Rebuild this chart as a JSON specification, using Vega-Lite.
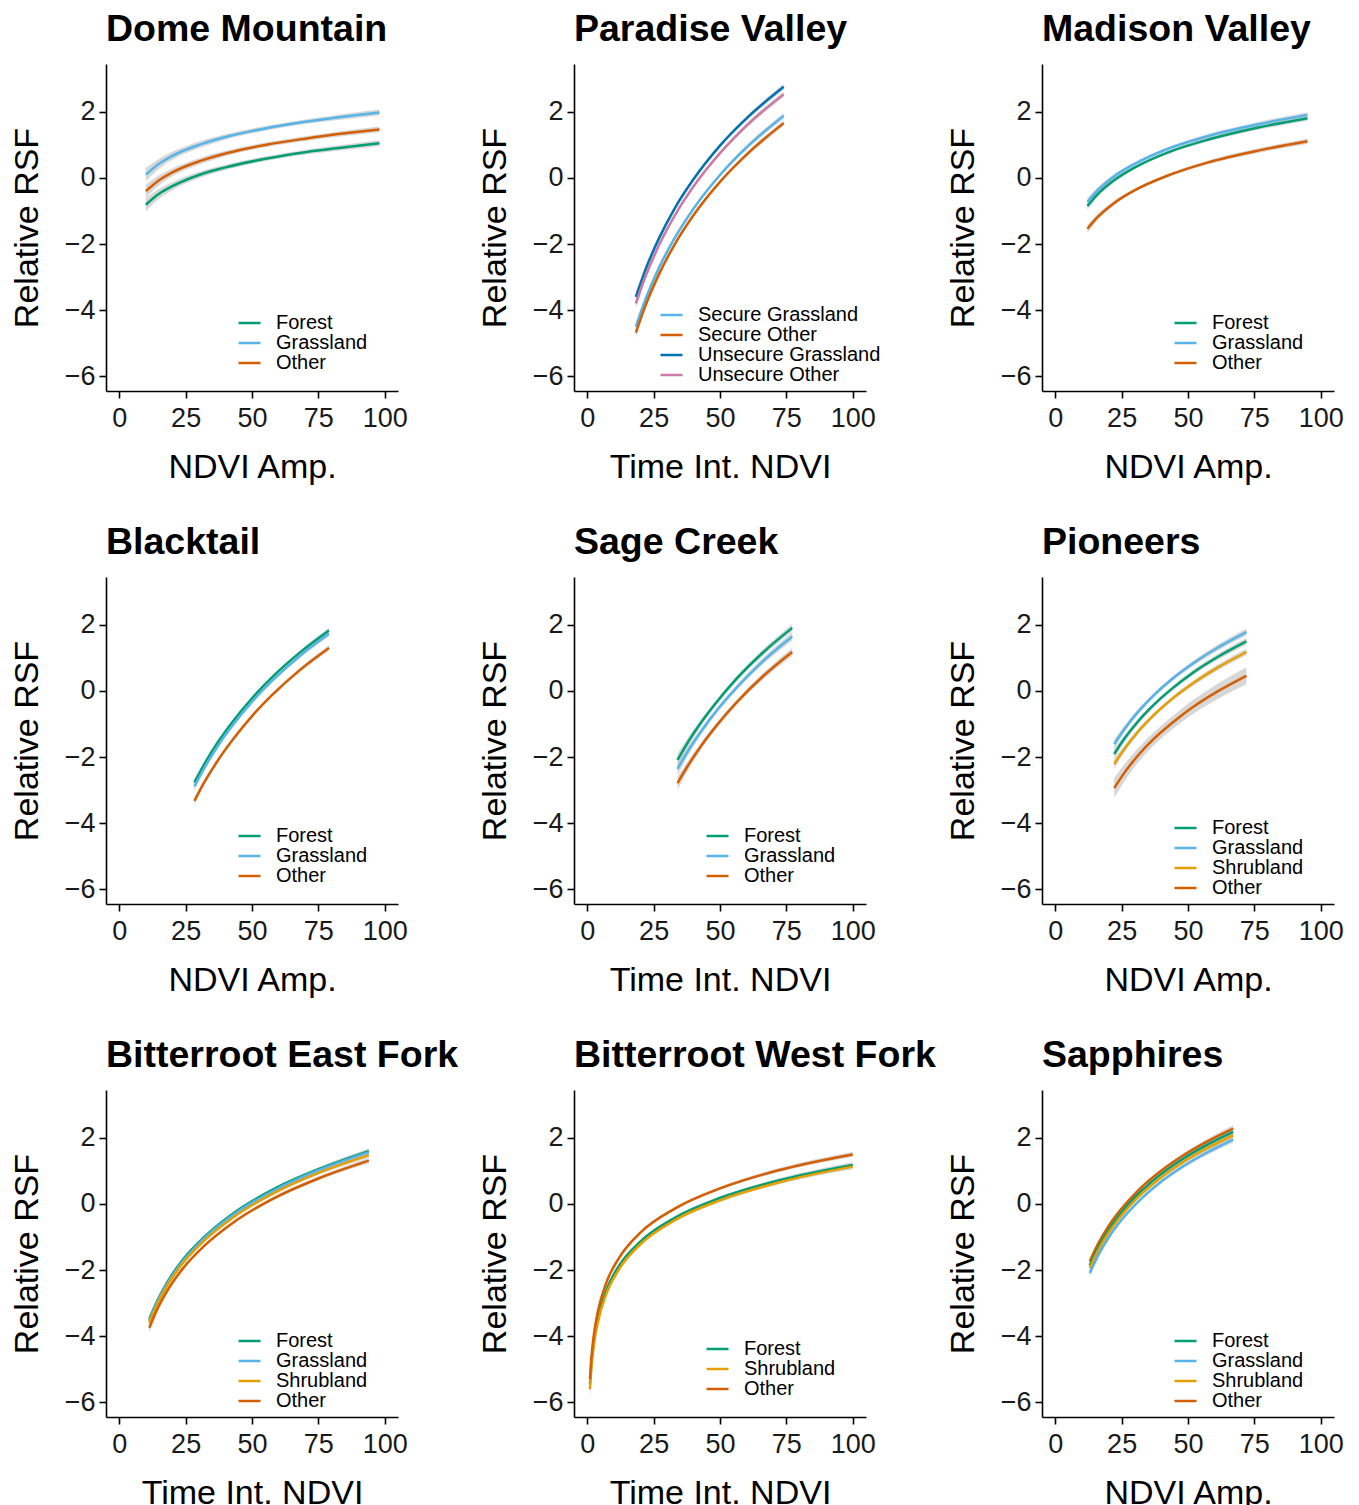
{
"$schema": "https://vega.github.io/schema/vega-lite/v6.json",
"background": "white",
"padding": {"left": 10, "top": 10, "right": 5, "bottom": 5},
"bounds": "flush",
"columns": 3,
"spacing": {"row": 186, "column": 176},
"resolve": {"scale": {"color": "independent"}, "legend": {"color": "independent"}},
"config": {
 "view": {"stroke": null},
 "font": "Liberation Sans",
 "title": {"fontSize": 37.5, "fontWeight": "bold", "anchor": "start", "frame": "group", "offset": 16, "color": "black", "font": "Liberation Sans"},
 "axis": {"domainColor": "black", "domainWidth": 1.6, "tickColor": "black", "tickWidth": 1.6, "tickSize": 7, "labelFontSize": 27, "labelColor": "#1a1a1a", "titleFontSize": 34, "titleFontWeight": "normal", "titleColor": "black", "grid": false, "labelFont": "Liberation Sans", "titleFont": "Liberation Sans"},
 "axisX": {"labelPadding": 7, "titlePadding": 19},
 "axisY": {"labelPadding": 4, "titlePadding": 20},
 "legend": {"orient": "none", "labelFontSize": 20, "labelFont": "Liberation Sans", "labelColor": "black", "symbolType": "M-2,0H2", "symbolStrokeWidth": 2.5, "symbolSize": 121, "labelOffset": 16.5, "rowPadding": -2, "labelLimit": 400, "padding": 0}
},
"datasets": {
 "dome": [
  {"c":"Forest","x":10,"y":-0.81,"lo":-1.01,"hi":-0.61},{"c":"Forest","x":15,"y":-0.48,"lo":-0.63,"hi":-0.33},{"c":"Forest","x":20,"y":-0.25,"lo":-0.37,"hi":-0.13},{"c":"Forest","x":30,"y":0.09,"lo":-0.01,"hi":0.19},{"c":"Forest","x":40,"y":0.32,"lo":0.24,"hi":0.40},{"c":"Forest","x":55,"y":0.58,"lo":0.51,"hi":0.65},{"c":"Forest","x":70,"y":0.78,"lo":0.71,"hi":0.85},{"c":"Forest","x":85,"y":0.93,"lo":0.85,"hi":1.01},{"c":"Forest","x":98,"y":1.05,"lo":0.96,"hi":1.14},
  {"c":"Grassland","x":10,"y":0.10,"lo":-0.10,"hi":0.30},{"c":"Grassland","x":15,"y":0.43,"lo":0.28,"hi":0.58},{"c":"Grassland","x":20,"y":0.67,"lo":0.55,"hi":0.79},{"c":"Grassland","x":30,"y":1.00,"lo":0.90,"hi":1.10},{"c":"Grassland","x":40,"y":1.24,"lo":1.16,"hi":1.32},{"c":"Grassland","x":55,"y":1.50,"lo":1.43,"hi":1.57},{"c":"Grassland","x":70,"y":1.70,"lo":1.63,"hi":1.77},{"c":"Grassland","x":85,"y":1.86,"lo":1.78,"hi":1.94},{"c":"Grassland","x":98,"y":1.98,"lo":1.89,"hi":2.07},
  {"c":"Other","x":10,"y":-0.40,"lo":-0.60,"hi":-0.20},{"c":"Other","x":15,"y":-0.07,"lo":-0.22,"hi":0.08},{"c":"Other","x":20,"y":0.17,"lo":0.05,"hi":0.29},{"c":"Other","x":30,"y":0.50,"lo":0.40,"hi":0.60},{"c":"Other","x":40,"y":0.74,"lo":0.66,"hi":0.82},{"c":"Other","x":55,"y":1.00,"lo":0.93,"hi":1.07},{"c":"Other","x":70,"y":1.19,"lo":1.12,"hi":1.26},{"c":"Other","x":85,"y":1.35,"lo":1.27,"hi":1.43},{"c":"Other","x":98,"y":1.47,"lo":1.38,"hi":1.56}
 ],
 "paradise": [
  {"c":"Unsecure Grassland","x":18.3,"y":-3.60,"lo":-3.75,"hi":-3.45},{"c":"Unsecure Grassland","x":22,"y":-2.76,"lo":-2.86,"hi":-2.66},{"c":"Unsecure Grassland","x":27,"y":-1.83,"lo":-1.91,"hi":-1.75},{"c":"Unsecure Grassland","x":33,"y":-0.91,"lo":-0.97,"hi":-0.85},{"c":"Unsecure Grassland","x":40,"y":-0.04,"lo":-0.09,"hi":0.01},{"c":"Unsecure Grassland","x":50,"y":0.98,"lo":0.93,"hi":1.03},{"c":"Unsecure Grassland","x":61,"y":1.88,"lo":1.81,"hi":1.95},{"c":"Unsecure Grassland","x":74,"y":2.76,"lo":2.67,"hi":2.85},
  {"c":"Unsecure Other","x":18.3,"y":-3.80,"lo":-3.95,"hi":-3.65},{"c":"Unsecure Other","x":22,"y":-2.97,"lo":-3.07,"hi":-2.87},{"c":"Unsecure Other","x":27,"y":-2.04,"lo":-2.12,"hi":-1.96},{"c":"Unsecure Other","x":33,"y":-1.13,"lo":-1.19,"hi":-1.07},{"c":"Unsecure Other","x":40,"y":-0.26,"lo":-0.31,"hi":-0.21},{"c":"Unsecure Other","x":50,"y":0.75,"lo":0.70,"hi":0.80},{"c":"Unsecure Other","x":61,"y":1.66,"lo":1.59,"hi":1.73},{"c":"Unsecure Other","x":74,"y":2.53,"lo":2.44,"hi":2.62},
  {"c":"Secure Grassland","x":18.3,"y":-4.50,"lo":-4.65,"hi":-4.35},{"c":"Secure Grassland","x":22,"y":-3.66,"lo":-3.76,"hi":-3.56},{"c":"Secure Grassland","x":27,"y":-2.72,"lo":-2.80,"hi":-2.64},{"c":"Secure Grassland","x":33,"y":-1.81,"lo":-1.87,"hi":-1.75},{"c":"Secure Grassland","x":40,"y":-0.93,"lo":-0.98,"hi":-0.88},{"c":"Secure Grassland","x":50,"y":0.09,"lo":0.04,"hi":0.14},{"c":"Secure Grassland","x":61,"y":1.00,"lo":0.93,"hi":1.07},{"c":"Secure Grassland","x":74,"y":1.88,"lo":1.79,"hi":1.97},
  {"c":"Secure Other","x":18.3,"y":-4.68,"lo":-4.83,"hi":-4.53},{"c":"Secure Other","x":22,"y":-3.85,"lo":-3.95,"hi":-3.75},{"c":"Secure Other","x":27,"y":-2.92,"lo":-3.00,"hi":-2.84},{"c":"Secure Other","x":33,"y":-2.00,"lo":-2.06,"hi":-1.94},{"c":"Secure Other","x":40,"y":-1.13,"lo":-1.18,"hi":-1.08},{"c":"Secure Other","x":50,"y":-0.12,"lo":-0.17,"hi":-0.07},{"c":"Secure Other","x":61,"y":0.78,"lo":0.71,"hi":0.85},{"c":"Secure Other","x":74,"y":1.66,"lo":1.57,"hi":1.75}
 ],
 "madison": [
  {"c":"Forest","x":12.1,"y":-0.85,"lo":-0.97,"hi":-0.73},{"c":"Forest","x":16,"y":-0.49,"lo":-0.58,"hi":-0.40},{"c":"Forest","x":22,"y":-0.08,"lo":-0.15,"hi":-0.01},{"c":"Forest","x":30,"y":0.32,"lo":0.27,"hi":0.37},{"c":"Forest","x":42,"y":0.76,"lo":0.71,"hi":0.81},{"c":"Forest","x":58,"y":1.17,"lo":1.11,"hi":1.23},{"c":"Forest","x":76,"y":1.52,"lo":1.45,"hi":1.59},{"c":"Forest","x":95,"y":1.81,"lo":1.73,"hi":1.89},
  {"c":"Grassland","x":12.1,"y":-0.73,"lo":-0.85,"hi":-0.61},{"c":"Grassland","x":16,"y":-0.37,"lo":-0.46,"hi":-0.28},{"c":"Grassland","x":22,"y":0.04,"lo":-0.03,"hi":0.11},{"c":"Grassland","x":30,"y":0.43,"lo":0.38,"hi":0.48},{"c":"Grassland","x":42,"y":0.87,"lo":0.82,"hi":0.92},{"c":"Grassland","x":58,"y":1.28,"lo":1.22,"hi":1.34},{"c":"Grassland","x":76,"y":1.62,"lo":1.55,"hi":1.69},{"c":"Grassland","x":95,"y":1.91,"lo":1.83,"hi":1.99},
  {"c":"Other","x":12.1,"y":-1.54,"lo":-1.66,"hi":-1.42},{"c":"Other","x":16,"y":-1.18,"lo":-1.27,"hi":-1.09},{"c":"Other","x":22,"y":-0.77,"lo":-0.84,"hi":-0.70},{"c":"Other","x":30,"y":-0.37,"lo":-0.42,"hi":-0.32},{"c":"Other","x":42,"y":0.06,"lo":0.01,"hi":0.11},{"c":"Other","x":58,"y":0.48,"lo":0.42,"hi":0.54},{"c":"Other","x":76,"y":0.82,"lo":0.75,"hi":0.89},{"c":"Other","x":95,"y":1.11,"lo":1.03,"hi":1.19}
 ],
 "blacktail": [
  {"c":"Forest","x":28.3,"y":-2.77,"lo":-2.89,"hi":-2.65},{"c":"Forest","x":32,"y":-2.22,"lo":-2.30,"hi":-2.14},{"c":"Forest","x":37,"y":-1.57,"lo":-1.63,"hi":-1.51},{"c":"Forest","x":43,"y":-0.90,"lo":-0.95,"hi":-0.85},{"c":"Forest","x":50,"y":-0.22,"lo":-0.27,"hi":-0.17},{"c":"Forest","x":58,"y":0.45,"lo":0.40,"hi":0.50},{"c":"Forest","x":68,"y":1.16,"lo":1.10,"hi":1.22},{"c":"Forest","x":79,"y":1.83,"lo":1.75,"hi":1.91},
  {"c":"Grassland","x":28.3,"y":-2.89,"lo":-3.01,"hi":-2.77},{"c":"Grassland","x":32,"y":-2.34,"lo":-2.42,"hi":-2.26},{"c":"Grassland","x":37,"y":-1.68,"lo":-1.74,"hi":-1.62},{"c":"Grassland","x":43,"y":-1.01,"lo":-1.06,"hi":-0.96},{"c":"Grassland","x":50,"y":-0.33,"lo":-0.38,"hi":-0.28},{"c":"Grassland","x":58,"y":0.34,"lo":0.29,"hi":0.39},{"c":"Grassland","x":68,"y":1.06,"lo":1.00,"hi":1.12},{"c":"Grassland","x":79,"y":1.73,"lo":1.65,"hi":1.81},
  {"c":"Other","x":28.3,"y":-3.33,"lo":-3.45,"hi":-3.21},{"c":"Other","x":32,"y":-2.77,"lo":-2.85,"hi":-2.69},{"c":"Other","x":37,"y":-2.12,"lo":-2.18,"hi":-2.06},{"c":"Other","x":43,"y":-1.45,"lo":-1.50,"hi":-1.40},{"c":"Other","x":50,"y":-0.76,"lo":-0.81,"hi":-0.71},{"c":"Other","x":58,"y":-0.09,"lo":-0.14,"hi":-0.04},{"c":"Other","x":68,"y":0.63,"lo":0.57,"hi":0.69},{"c":"Other","x":79,"y":1.30,"lo":1.22,"hi":1.38}
 ],
 "sage": [
  {"c":"Forest","x":34,"y":-2.09,"lo":-2.29,"hi":-1.89},{"c":"Forest","x":38,"y":-1.54,"lo":-1.68,"hi":-1.40},{"c":"Forest","x":43,"y":-0.94,"lo":-1.04,"hi":-0.84},{"c":"Forest","x":49,"y":-0.31,"lo":-0.39,"hi":-0.23},{"c":"Forest","x":56,"y":0.35,"lo":0.27,"hi":0.43},{"c":"Forest","x":66,"y":1.15,"lo":1.05,"hi":1.25},{"c":"Forest","x":77.2,"y":1.91,"lo":1.79,"hi":2.03},
  {"c":"Grassland","x":34,"y":-2.36,"lo":-2.56,"hi":-2.16},{"c":"Grassland","x":38,"y":-1.81,"lo":-1.95,"hi":-1.67},{"c":"Grassland","x":43,"y":-1.21,"lo":-1.31,"hi":-1.11},{"c":"Grassland","x":49,"y":-0.57,"lo":-0.65,"hi":-0.49},{"c":"Grassland","x":56,"y":0.08,"lo":0.00,"hi":0.16},{"c":"Grassland","x":66,"y":0.89,"lo":0.79,"hi":0.99},{"c":"Grassland","x":77.2,"y":1.65,"lo":1.53,"hi":1.77},
  {"c":"Other","x":34,"y":-2.79,"lo":-2.99,"hi":-2.59},{"c":"Other","x":38,"y":-2.25,"lo":-2.39,"hi":-2.11},{"c":"Other","x":43,"y":-1.65,"lo":-1.75,"hi":-1.55},{"c":"Other","x":49,"y":-1.02,"lo":-1.10,"hi":-0.94},{"c":"Other","x":56,"y":-0.37,"lo":-0.45,"hi":-0.29},{"c":"Other","x":66,"y":0.43,"lo":0.33,"hi":0.53},{"c":"Other","x":77.2,"y":1.18,"lo":1.06,"hi":1.30}
 ],
 "pioneers": [
  {"c":"Forest","x":22.2,"y":-1.91,"lo":-2.06,"hi":-1.76},{"c":"Forest","x":26,"y":-1.45,"lo":-1.55,"hi":-1.35},{"c":"Forest","x":31,"y":-0.94,"lo":-1.02,"hi":-0.86},{"c":"Forest","x":37,"y":-0.43,"lo":-0.50,"hi":-0.36},{"c":"Forest","x":44,"y":0.07,"lo":0.00,"hi":0.14},{"c":"Forest","x":52,"y":0.56,"lo":0.48,"hi":0.64},{"c":"Forest","x":61,"y":1.02,"lo":0.93,"hi":1.11},{"c":"Forest","x":72,"y":1.50,"lo":1.40,"hi":1.60},
  {"c":"Grassland","x":22.2,"y":-1.61,"lo":-1.76,"hi":-1.46},{"c":"Grassland","x":26,"y":-1.16,"lo":-1.26,"hi":-1.06},{"c":"Grassland","x":31,"y":-0.65,"lo":-0.73,"hi":-0.57},{"c":"Grassland","x":37,"y":-0.14,"lo":-0.21,"hi":-0.07},{"c":"Grassland","x":44,"y":0.36,"lo":0.29,"hi":0.43},{"c":"Grassland","x":52,"y":0.84,"lo":0.76,"hi":0.92},{"c":"Grassland","x":61,"y":1.30,"lo":1.21,"hi":1.39},{"c":"Grassland","x":72,"y":1.78,"lo":1.68,"hi":1.88},
  {"c":"Shrubland","x":22.2,"y":-2.21,"lo":-2.36,"hi":-2.06},{"c":"Shrubland","x":26,"y":-1.76,"lo":-1.86,"hi":-1.66},{"c":"Shrubland","x":31,"y":-1.25,"lo":-1.33,"hi":-1.17},{"c":"Shrubland","x":37,"y":-0.74,"lo":-0.81,"hi":-0.67},{"c":"Shrubland","x":44,"y":-0.24,"lo":-0.31,"hi":-0.17},{"c":"Shrubland","x":52,"y":0.24,"lo":0.16,"hi":0.32},{"c":"Shrubland","x":61,"y":0.70,"lo":0.61,"hi":0.79},{"c":"Shrubland","x":72,"y":1.18,"lo":1.08,"hi":1.28},
  {"c":"Other","x":22.2,"y":-2.94,"lo":-3.24,"hi":-2.64},{"c":"Other","x":26,"y":-2.48,"lo":-2.74,"hi":-2.22},{"c":"Other","x":31,"y":-1.97,"lo":-2.19,"hi":-1.75},{"c":"Other","x":37,"y":-1.46,"lo":-1.66,"hi":-1.26},{"c":"Other","x":44,"y":-0.97,"lo":-1.17,"hi":-0.77},{"c":"Other","x":52,"y":-0.48,"lo":-0.69,"hi":-0.27},{"c":"Other","x":61,"y":-0.02,"lo":-0.25,"hi":0.21},{"c":"Other","x":72,"y":0.46,"lo":0.20,"hi":0.72}
 ],
 "bef": [
  {"c":"Forest","x":11.3,"y":-3.50,"lo":-3.65,"hi":-3.35},{"c":"Forest","x":14,"y":-2.99,"lo":-3.09,"hi":-2.89},{"c":"Forest","x":18,"y":-2.38,"lo":-2.45,"hi":-2.31},{"c":"Forest","x":24,"y":-1.68,"lo":-1.73,"hi":-1.63},{"c":"Forest","x":32,"y":-1.00,"lo":-1.04,"hi":-0.96},{"c":"Forest","x":43,"y":-0.28,"lo":-0.32,"hi":-0.24},{"c":"Forest","x":58,"y":0.44,"lo":0.39,"hi":0.49},{"c":"Forest","x":75,"y":1.05,"lo":0.99,"hi":1.11},{"c":"Forest","x":94,"y":1.60,"lo":1.52,"hi":1.68},
  {"c":"Grassland","x":11.3,"y":-3.55,"lo":-3.70,"hi":-3.40},{"c":"Grassland","x":14,"y":-3.03,"lo":-3.13,"hi":-2.93},{"c":"Grassland","x":18,"y":-2.42,"lo":-2.49,"hi":-2.35},{"c":"Grassland","x":24,"y":-1.73,"lo":-1.78,"hi":-1.68},{"c":"Grassland","x":32,"y":-1.04,"lo":-1.08,"hi":-1.00},{"c":"Grassland","x":43,"y":-0.32,"lo":-0.36,"hi":-0.28},{"c":"Grassland","x":58,"y":0.40,"lo":0.35,"hi":0.45},{"c":"Grassland","x":75,"y":1.02,"lo":0.96,"hi":1.08},{"c":"Grassland","x":94,"y":1.57,"lo":1.49,"hi":1.65},
  {"c":"Shrubland","x":11.3,"y":-3.60,"lo":-3.75,"hi":-3.45},{"c":"Shrubland","x":14,"y":-3.09,"lo":-3.19,"hi":-2.99},{"c":"Shrubland","x":18,"y":-2.48,"lo":-2.55,"hi":-2.41},{"c":"Shrubland","x":24,"y":-1.79,"lo":-1.84,"hi":-1.74},{"c":"Shrubland","x":32,"y":-1.11,"lo":-1.15,"hi":-1.07},{"c":"Shrubland","x":43,"y":-0.40,"lo":-0.44,"hi":-0.36},{"c":"Shrubland","x":58,"y":0.32,"lo":0.27,"hi":0.37},{"c":"Shrubland","x":75,"y":0.94,"lo":0.88,"hi":1.00},{"c":"Shrubland","x":94,"y":1.48,"lo":1.40,"hi":1.56},
  {"c":"Other","x":11.3,"y":-3.75,"lo":-3.90,"hi":-3.60},{"c":"Other","x":14,"y":-3.24,"lo":-3.34,"hi":-3.14},{"c":"Other","x":18,"y":-2.64,"lo":-2.71,"hi":-2.57},{"c":"Other","x":24,"y":-1.95,"lo":-2.00,"hi":-1.90},{"c":"Other","x":32,"y":-1.27,"lo":-1.31,"hi":-1.23},{"c":"Other","x":43,"y":-0.56,"lo":-0.60,"hi":-0.52},{"c":"Other","x":58,"y":0.16,"lo":0.11,"hi":0.21},{"c":"Other","x":75,"y":0.77,"lo":0.71,"hi":0.83},{"c":"Other","x":94,"y":1.31,"lo":1.23,"hi":1.39}
 ],
 "bwf": [
  {"c":"Forest","x":1,"y":-5.46,"lo":-5.81,"hi":-5.11},{"c":"Forest","x":1.5,"y":-4.88,"lo":-5.13,"hi":-4.63},{"c":"Forest","x":2.5,"y":-4.14,"lo":-4.29,"hi":-3.99},{"c":"Forest","x":4,"y":-3.46,"lo":-3.56,"hi":-3.36},{"c":"Forest","x":7,"y":-2.65,"lo":-2.72,"hi":-2.58},{"c":"Forest","x":12,"y":-1.87,"lo":-1.93,"hi":-1.81},{"c":"Forest","x":20,"y":-1.14,"lo":-1.19,"hi":-1.09},{"c":"Forest","x":33,"y":-0.42,"lo":-0.47,"hi":-0.37},{"c":"Forest","x":50,"y":0.18,"lo":0.13,"hi":0.23},{"c":"Forest","x":72,"y":0.71,"lo":0.65,"hi":0.77},{"c":"Forest","x":100,"y":1.18,"lo":1.10,"hi":1.26},
  {"c":"Shrubland","x":1,"y":-5.61,"lo":-5.96,"hi":-5.26},{"c":"Shrubland","x":1.5,"y":-5.02,"lo":-5.27,"hi":-4.77},{"c":"Shrubland","x":2.5,"y":-4.27,"lo":-4.42,"hi":-4.12},{"c":"Shrubland","x":4,"y":-3.58,"lo":-3.68,"hi":-3.48},{"c":"Shrubland","x":7,"y":-2.76,"lo":-2.83,"hi":-2.69},{"c":"Shrubland","x":12,"y":-1.97,"lo":-2.03,"hi":-1.91},{"c":"Shrubland","x":20,"y":-1.22,"lo":-1.27,"hi":-1.17},{"c":"Shrubland","x":33,"y":-0.49,"lo":-0.54,"hi":-0.44},{"c":"Shrubland","x":50,"y":0.11,"lo":0.06,"hi":0.16},{"c":"Shrubland","x":72,"y":0.65,"lo":0.59,"hi":0.71},{"c":"Shrubland","x":100,"y":1.13,"lo":1.05,"hi":1.21},
  {"c":"Other","x":1,"y":-5.30,"lo":-5.65,"hi":-4.95},{"c":"Other","x":1.5,"y":-4.70,"lo":-4.95,"hi":-4.45},{"c":"Other","x":2.5,"y":-3.95,"lo":-4.10,"hi":-3.80},{"c":"Other","x":4,"y":-3.25,"lo":-3.35,"hi":-3.15},{"c":"Other","x":7,"y":-2.42,"lo":-2.49,"hi":-2.35},{"c":"Other","x":12,"y":-1.63,"lo":-1.69,"hi":-1.57},{"c":"Other","x":20,"y":-0.87,"lo":-0.92,"hi":-0.82},{"c":"Other","x":33,"y":-0.14,"lo":-0.19,"hi":-0.09},{"c":"Other","x":50,"y":0.47,"lo":0.42,"hi":0.52},{"c":"Other","x":72,"y":1.02,"lo":0.96,"hi":1.08},{"c":"Other","x":100,"y":1.50,"lo":1.42,"hi":1.58}
 ],
 "sapphires": [
  {"c":"Other","x":13,"y":-1.74,"lo":-1.86,"hi":-1.62},{"c":"Other","x":16,"y":-1.23,"lo":-1.32,"hi":-1.14},{"c":"Other","x":20,"y":-0.68,"lo":-0.75,"hi":-0.61},{"c":"Other","x":25,"y":-0.14,"lo":-0.20,"hi":-0.08},{"c":"Other","x":31,"y":0.39,"lo":0.34,"hi":0.44},{"c":"Other","x":39,"y":0.95,"lo":0.90,"hi":1.00},{"c":"Other","x":48,"y":1.46,"lo":1.40,"hi":1.52},{"c":"Other","x":57,"y":1.88,"lo":1.80,"hi":1.96},{"c":"Other","x":67,"y":2.28,"lo":2.18,"hi":2.38},
  {"c":"Forest","x":13,"y":-1.86,"lo":-1.98,"hi":-1.74},{"c":"Forest","x":16,"y":-1.35,"lo":-1.44,"hi":-1.26},{"c":"Forest","x":20,"y":-0.80,"lo":-0.87,"hi":-0.73},{"c":"Forest","x":25,"y":-0.25,"lo":-0.31,"hi":-0.19},{"c":"Forest","x":31,"y":0.28,"lo":0.23,"hi":0.33},{"c":"Forest","x":39,"y":0.85,"lo":0.80,"hi":0.90},{"c":"Forest","x":48,"y":1.36,"lo":1.30,"hi":1.42},{"c":"Forest","x":57,"y":1.78,"lo":1.70,"hi":1.86},{"c":"Forest","x":67,"y":2.18,"lo":2.08,"hi":2.28},
  {"c":"Shrubland","x":13,"y":-1.94,"lo":-2.06,"hi":-1.82},{"c":"Shrubland","x":16,"y":-1.43,"lo":-1.52,"hi":-1.34},{"c":"Shrubland","x":20,"y":-0.88,"lo":-0.95,"hi":-0.81},{"c":"Shrubland","x":25,"y":-0.34,"lo":-0.40,"hi":-0.28},{"c":"Shrubland","x":31,"y":0.19,"lo":0.14,"hi":0.24},{"c":"Shrubland","x":39,"y":0.75,"lo":0.70,"hi":0.80},{"c":"Shrubland","x":48,"y":1.26,"lo":1.20,"hi":1.32},{"c":"Shrubland","x":57,"y":1.68,"lo":1.60,"hi":1.76},{"c":"Shrubland","x":67,"y":2.08,"lo":1.98,"hi":2.18},
  {"c":"Grassland","x":13,"y":-2.09,"lo":-2.21,"hi":-1.97},{"c":"Grassland","x":16,"y":-1.58,"lo":-1.67,"hi":-1.49},{"c":"Grassland","x":20,"y":-1.03,"lo":-1.10,"hi":-0.96},{"c":"Grassland","x":25,"y":-0.48,"lo":-0.54,"hi":-0.42},{"c":"Grassland","x":31,"y":0.05,"lo":0.00,"hi":0.10},{"c":"Grassland","x":39,"y":0.62,"lo":0.57,"hi":0.67},{"c":"Grassland","x":48,"y":1.13,"lo":1.07,"hi":1.19},{"c":"Grassland","x":57,"y":1.55,"lo":1.47,"hi":1.63},{"c":"Grassland","x":67,"y":1.95,"lo":1.85,"hi":2.05}
 ]
},
"concat": [
 {"title": "Dome Mountain", "width": 292, "height": 327, "data": {"name": "dome"},
  "encoding": {"x": {"field": "x", "type": "quantitative", "scale": {"domain": [-5, 105], "nice": false, "zero": false}, "axis": {"title": "NDVI Amp.", "values": [0, 25, 50, 75, 100]}}},
  "layer": [
   {"mark": {"type": "area", "color": "#bdbdbd", "opacity": 0.6, "interpolate": "monotone"}, "encoding": {"y": {"field": "lo", "type": "quantitative", "scale": {"domain": [-6.45, 3.45], "nice": false, "zero": false}, "axis": {"title": "Relative RSF", "values": [-6, -4, -2, 0, 2]}}, "y2": {"field": "hi"}, "detail": {"field": "c"}}},
   {"mark": {"type": "line", "strokeWidth": 2.5, "interpolate": "monotone"}, "encoding": {"y": {"field": "y", "type": "quantitative"}, "color": {"field": "c", "type": "nominal", "scale": {"domain": ["Forest", "Grassland", "Other"], "range": ["#009E73", "#56B4E9", "#D55E00"]}, "legend": {"title": null, "legendX": 133.5, "legendY": 249}}}}
  ]},
 {"title": "Paradise Valley", "width": 292, "height": 327, "data": {"name": "paradise"},
  "encoding": {"x": {"field": "x", "type": "quantitative", "scale": {"domain": [-5, 105], "nice": false, "zero": false}, "axis": {"title": "Time Int. NDVI", "values": [0, 25, 50, 75, 100]}}},
  "layer": [
   {"mark": {"type": "area", "color": "#bdbdbd", "opacity": 0.6, "interpolate": "monotone"}, "encoding": {"y": {"field": "lo", "type": "quantitative", "scale": {"domain": [-6.45, 3.45], "nice": false, "zero": false}, "axis": {"title": "Relative RSF", "values": [-6, -4, -2, 0, 2]}}, "y2": {"field": "hi"}, "detail": {"field": "c"}}},
   {"mark": {"type": "line", "strokeWidth": 2.5, "interpolate": "monotone"}, "encoding": {"y": {"field": "y", "type": "quantitative"}, "color": {"field": "c", "type": "nominal", "scale": {"domain": ["Secure Grassland", "Secure Other", "Unsecure Grassland", "Unsecure Other"], "range": ["#56B4E9", "#D55E00", "#0072B2", "#CC79A7"]}, "legend": {"title": null, "legendX": 87.5, "legendY": 241}}}}
  ]},
 {"title": "Madison Valley", "width": 292, "height": 327, "data": {"name": "madison"},
  "encoding": {"x": {"field": "x", "type": "quantitative", "scale": {"domain": [-5, 105], "nice": false, "zero": false}, "axis": {"title": "NDVI Amp.", "values": [0, 25, 50, 75, 100]}}},
  "layer": [
   {"mark": {"type": "area", "color": "#bdbdbd", "opacity": 0.6, "interpolate": "monotone"}, "encoding": {"y": {"field": "lo", "type": "quantitative", "scale": {"domain": [-6.45, 3.45], "nice": false, "zero": false}, "axis": {"title": "Relative RSF", "values": [-6, -4, -2, 0, 2]}}, "y2": {"field": "hi"}, "detail": {"field": "c"}}},
   {"mark": {"type": "line", "strokeWidth": 2.5, "interpolate": "monotone"}, "encoding": {"y": {"field": "y", "type": "quantitative"}, "color": {"field": "c", "type": "nominal", "scale": {"domain": ["Forest", "Grassland", "Other"], "range": ["#009E73", "#56B4E9", "#D55E00"]}, "legend": {"title": null, "legendX": 133.5, "legendY": 249}}}}
  ]},
 {"title": "Blacktail", "width": 292, "height": 327, "data": {"name": "blacktail"},
  "encoding": {"x": {"field": "x", "type": "quantitative", "scale": {"domain": [-5, 105], "nice": false, "zero": false}, "axis": {"title": "NDVI Amp.", "values": [0, 25, 50, 75, 100]}}},
  "layer": [
   {"mark": {"type": "area", "color": "#bdbdbd", "opacity": 0.6, "interpolate": "monotone"}, "encoding": {"y": {"field": "lo", "type": "quantitative", "scale": {"domain": [-6.45, 3.45], "nice": false, "zero": false}, "axis": {"title": "Relative RSF", "values": [-6, -4, -2, 0, 2]}}, "y2": {"field": "hi"}, "detail": {"field": "c"}}},
   {"mark": {"type": "line", "strokeWidth": 2.5, "interpolate": "monotone"}, "encoding": {"y": {"field": "y", "type": "quantitative"}, "color": {"field": "c", "type": "nominal", "scale": {"domain": ["Forest", "Grassland", "Other"], "range": ["#009E73", "#56B4E9", "#D55E00"]}, "legend": {"title": null, "legendX": 133.5, "legendY": 249}}}}
  ]},
 {"title": "Sage Creek", "width": 292, "height": 327, "data": {"name": "sage"},
  "encoding": {"x": {"field": "x", "type": "quantitative", "scale": {"domain": [-5, 105], "nice": false, "zero": false}, "axis": {"title": "Time Int. NDVI", "values": [0, 25, 50, 75, 100]}}},
  "layer": [
   {"mark": {"type": "area", "color": "#bdbdbd", "opacity": 0.6, "interpolate": "monotone"}, "encoding": {"y": {"field": "lo", "type": "quantitative", "scale": {"domain": [-6.45, 3.45], "nice": false, "zero": false}, "axis": {"title": "Relative RSF", "values": [-6, -4, -2, 0, 2]}}, "y2": {"field": "hi"}, "detail": {"field": "c"}}},
   {"mark": {"type": "line", "strokeWidth": 2.5, "interpolate": "monotone"}, "encoding": {"y": {"field": "y", "type": "quantitative"}, "color": {"field": "c", "type": "nominal", "scale": {"domain": ["Forest", "Grassland", "Other"], "range": ["#009E73", "#56B4E9", "#D55E00"]}, "legend": {"title": null, "legendX": 133.5, "legendY": 249}}}}
  ]},
 {"title": "Pioneers", "width": 292, "height": 327, "data": {"name": "pioneers"},
  "encoding": {"x": {"field": "x", "type": "quantitative", "scale": {"domain": [-5, 105], "nice": false, "zero": false}, "axis": {"title": "NDVI Amp.", "values": [0, 25, 50, 75, 100]}}},
  "layer": [
   {"mark": {"type": "area", "color": "#bdbdbd", "opacity": 0.6, "interpolate": "monotone"}, "encoding": {"y": {"field": "lo", "type": "quantitative", "scale": {"domain": [-6.45, 3.45], "nice": false, "zero": false}, "axis": {"title": "Relative RSF", "values": [-6, -4, -2, 0, 2]}}, "y2": {"field": "hi"}, "detail": {"field": "c"}}},
   {"mark": {"type": "line", "strokeWidth": 2.5, "interpolate": "monotone"}, "encoding": {"y": {"field": "y", "type": "quantitative"}, "color": {"field": "c", "type": "nominal", "scale": {"domain": ["Forest", "Grassland", "Shrubland", "Other"], "range": ["#009E73", "#56B4E9", "#E69F00", "#D55E00"]}, "legend": {"title": null, "legendX": 133.5, "legendY": 241}}}}
  ]},
 {"title": "Bitterroot East Fork", "width": 292, "height": 327, "data": {"name": "bef"},
  "encoding": {"x": {"field": "x", "type": "quantitative", "scale": {"domain": [-5, 105], "nice": false, "zero": false}, "axis": {"title": "Time Int. NDVI", "values": [0, 25, 50, 75, 100]}}},
  "layer": [
   {"mark": {"type": "area", "color": "#bdbdbd", "opacity": 0.6, "interpolate": "monotone"}, "encoding": {"y": {"field": "lo", "type": "quantitative", "scale": {"domain": [-6.45, 3.45], "nice": false, "zero": false}, "axis": {"title": "Relative RSF", "values": [-6, -4, -2, 0, 2]}}, "y2": {"field": "hi"}, "detail": {"field": "c"}}},
   {"mark": {"type": "line", "strokeWidth": 2.5, "interpolate": "monotone"}, "encoding": {"y": {"field": "y", "type": "quantitative"}, "color": {"field": "c", "type": "nominal", "scale": {"domain": ["Forest", "Grassland", "Shrubland", "Other"], "range": ["#009E73", "#56B4E9", "#E69F00", "#D55E00"]}, "legend": {"title": null, "legendX": 133.5, "legendY": 241}}}}
  ]},
 {"title": "Bitterroot West Fork", "width": 292, "height": 327, "data": {"name": "bwf"},
  "encoding": {"x": {"field": "x", "type": "quantitative", "scale": {"domain": [-5, 105], "nice": false, "zero": false}, "axis": {"title": "Time Int. NDVI", "values": [0, 25, 50, 75, 100]}}},
  "layer": [
   {"mark": {"type": "area", "color": "#bdbdbd", "opacity": 0.6, "interpolate": "monotone"}, "encoding": {"y": {"field": "lo", "type": "quantitative", "scale": {"domain": [-6.45, 3.45], "nice": false, "zero": false}, "axis": {"title": "Relative RSF", "values": [-6, -4, -2, 0, 2]}}, "y2": {"field": "hi"}, "detail": {"field": "c"}}},
   {"mark": {"type": "line", "strokeWidth": 2.5, "interpolate": "monotone"}, "encoding": {"y": {"field": "y", "type": "quantitative"}, "color": {"field": "c", "type": "nominal", "scale": {"domain": ["Forest", "Shrubland", "Other"], "range": ["#009E73", "#E69F00", "#D55E00"]}, "legend": {"title": null, "legendX": 133.5, "legendY": 249}}}}
  ]},
 {"title": "Sapphires", "width": 292, "height": 327, "data": {"name": "sapphires"},
  "encoding": {"x": {"field": "x", "type": "quantitative", "scale": {"domain": [-5, 105], "nice": false, "zero": false}, "axis": {"title": "NDVI Amp.", "values": [0, 25, 50, 75, 100]}}},
  "layer": [
   {"mark": {"type": "area", "color": "#bdbdbd", "opacity": 0.6, "interpolate": "monotone"}, "encoding": {"y": {"field": "lo", "type": "quantitative", "scale": {"domain": [-6.45, 3.45], "nice": false, "zero": false}, "axis": {"title": "Relative RSF", "values": [-6, -4, -2, 0, 2]}}, "y2": {"field": "hi"}, "detail": {"field": "c"}}},
   {"mark": {"type": "line", "strokeWidth": 2.5, "interpolate": "monotone"}, "encoding": {"y": {"field": "y", "type": "quantitative"}, "color": {"field": "c", "type": "nominal", "scale": {"domain": ["Forest", "Grassland", "Shrubland", "Other"], "range": ["#009E73", "#56B4E9", "#E69F00", "#D55E00"]}, "legend": {"title": null, "legendX": 133.5, "legendY": 241}}}}
  ]}
]
}
